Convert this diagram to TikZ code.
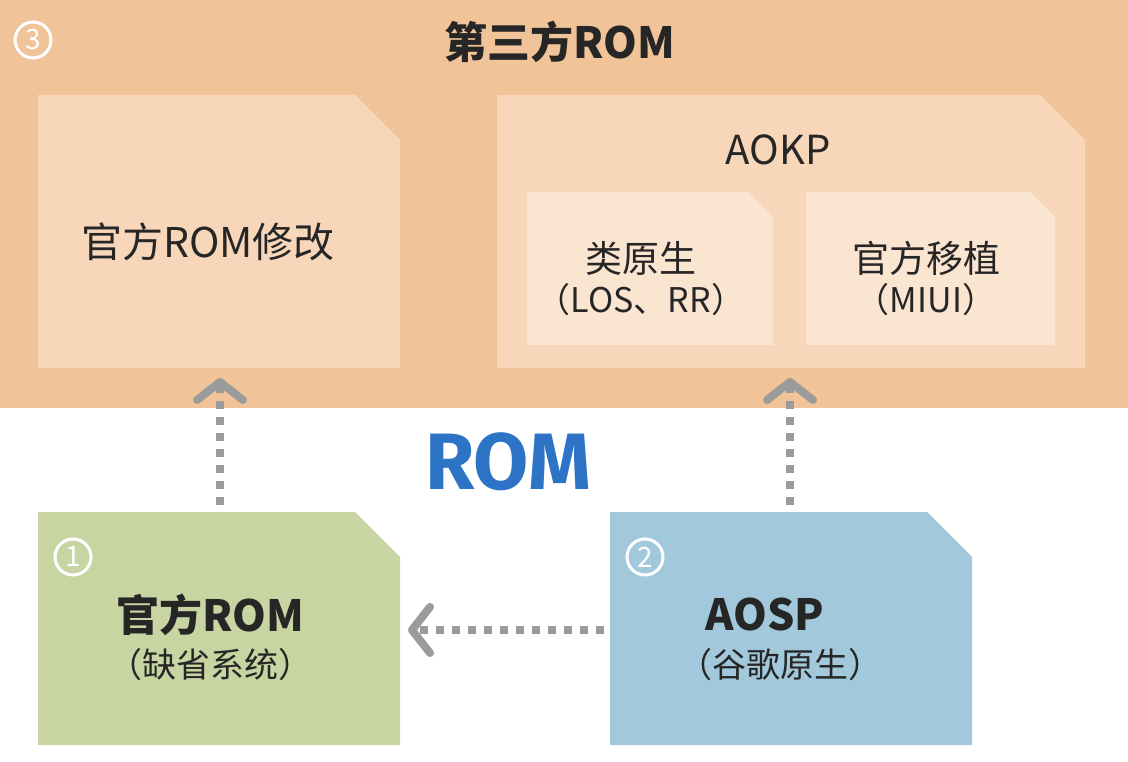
\documentclass[tikz,border=0pt]{standalone}
\usepackage{fontspec}
\setmainfont{Noto Sans CJK SC}
\newfontfamily\romfont{Fira Sans}
\usetikzlibrary{arrows.meta}
\definecolor{band}{HTML}{F0C399}
\definecolor{inner}{HTML}{F7D6B9}
\definecolor{inner2}{HTML}{FAE5D1}
\definecolor{greenb}{HTML}{C8D5A2}
\definecolor{blueb}{HTML}{A1C9DB}
\definecolor{arr}{HTML}{9B9B9B}
\definecolor{romblue}{HTML}{2D74C6}
\begin{document}
\begin{tikzpicture}[x=1pt,y=-1pt,
  lbl/.style={font=\fontsize{41}{46}\selectfont,text=black!85},
  sub/.style={font=\fontsize{34}{38}\selectfont,text=black!85},
  num/.style={circle,draw=white,line width=3pt,text=white,inner sep=0pt,minimum size=36pt,font=\fontsize{28}{28}\selectfont},
  con/.style={draw=arr,line width=8pt,dash pattern=on 8pt off 8pt,-{Straight Barb[length=18pt,width=46pt,line width=8pt,round]}}]
\useasboundingbox (0,0) rectangle (1128,762);
\fill[band] (0,0) rectangle (1128,408);
\newcommand\foldbox[6]{\fill[#6] (#1,#2) -- (#3-#5,#2) -- (#3,#2+#5) -- (#3,#4) -- (#1,#4) -- cycle;}
\foldbox{38}{95}{400}{368}{45}{inner}
\foldbox{497}{95}{1085}{368}{45}{inner}
\foldbox{527}{192}{773}{345}{25}{inner2}
\foldbox{806}{192}{1055}{345}{25}{inner2}
\foldbox{38}{512}{400}{745}{45}{greenb}
\foldbox{610}{512}{972}{745}{45}{blueb}
\node[num] (n3) at (33,40) {3};
\node[num] (n1) at (73,557) {1};
\node[num] (n2) at (645,557) {2};
\node[lbl,font=\fontsize{43}{48}\selectfont\bfseries] (title) at (560,42) {第三方ROM};
\node[lbl] (mod) at (208,242) {官方ROM修改};
\node[lbl,font=\fontsize{40}{46}\selectfont] (aokp) at (778,150) {AOKP};
\node[lbl,font=\fontsize{37}{42}\selectfont] (lei) at (641,258) {类原生};
\node[sub] (leis) at (641,300) {（LOS、RR）};
\node[lbl,font=\fontsize{37}{42}\selectfont] (yz) at (926,258) {官方移植};
\node[sub] (yzs) at (926,300) {（MIUI）};
\node[lbl,font=\fontsize{43}{48}\selectfont\bfseries] (grom) at (210,615) {官方ROM};
\node[sub] (groms) at (210,665) {（缺省系统）};
\node[lbl,font=\fontsize{43}{48}\selectfont\bfseries] (aosp) at (765,615) {AOSP};
\node[sub] (aosps) at (780,665) {（谷歌原生）};
\node[font=\romfont\fontsize{80}{80}\selectfont\bfseries,text=romblue] (rom) at (508,462) {ROM};
\coordinate (g) at (220,505); \coordinate (gt) at (220,378);
\coordinate (b) at (790,505); \coordinate (bt) at (790,378);
\coordinate (l) at (604,630); \coordinate (lt) at (408,630);
\draw[con] (g) -- (gt);
\draw[con] (b) -- (bt);
\draw[con] (l) -- (lt);
\end{tikzpicture}
\end{document}
